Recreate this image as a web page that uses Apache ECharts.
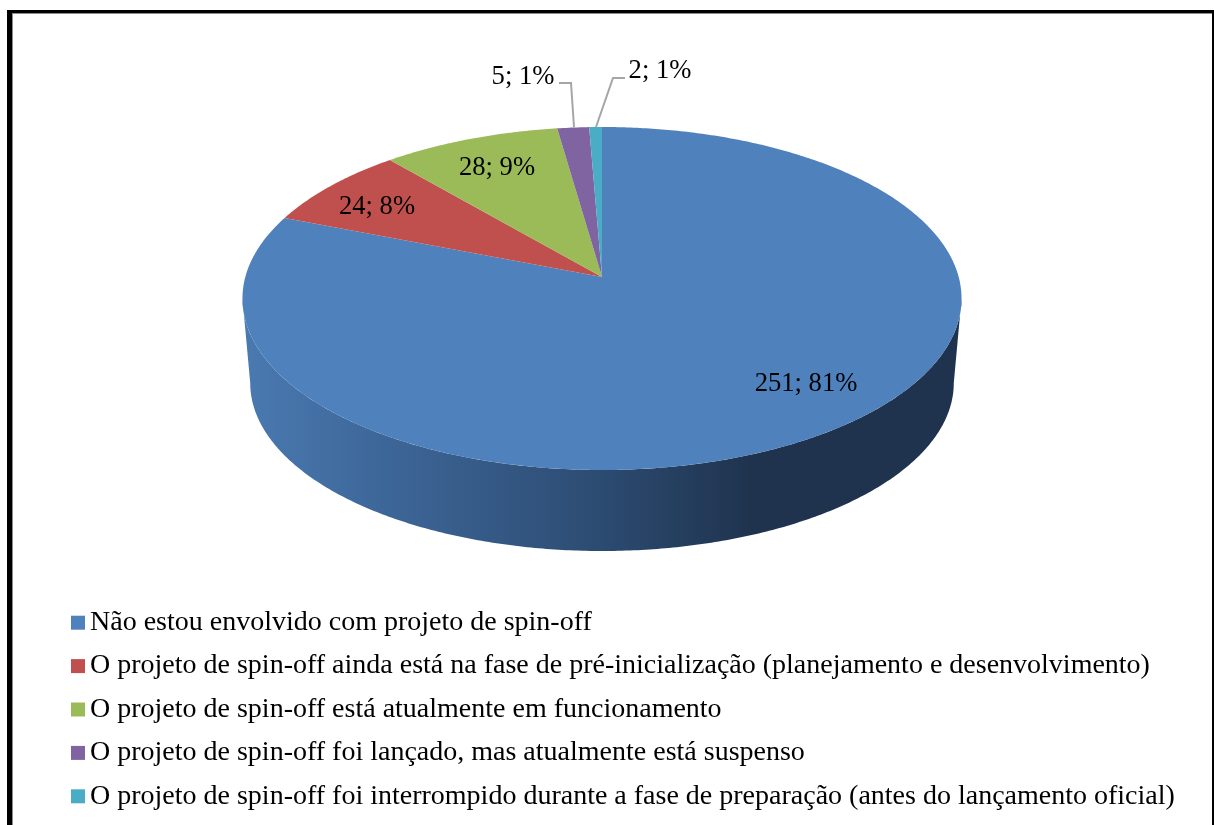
<!DOCTYPE html>
<html>
<head>
<meta charset="utf-8">
<style>
  html, body { margin: 0; padding: 0; background: #fff; }
  #chart { width: 1214px; height: 825px; }
</style>
</head>
<body>
<div id="chart"></div>
<script src="https://cdn.jsdelivr.net/npm/echarts@6/dist/echarts.min.js"></script>
<script>
const categories = [
  'Não estou envolvido com projeto de spin-off',
  'O projeto de spin-off ainda está na fase de pré-inicialização (planejamento e desenvolvimento)',
  'O projeto de spin-off está atualmente em funcionamento',
  'O projeto de spin-off foi lançado, mas atualmente está suspenso',
  'O projeto de spin-off foi interrompido durante a fase de preparação (antes do lançamento oficial)'
];
const values = [251, 24, 28, 5, 2];
const percents = [81, 8, 9, 1, 1];
const colors = ['#4f81bd', '#c0504d', '#9bbb59', '#8064a2', '#4bacc6'];

// where the labels sit, and the leader lines of the two thin slices
const labelAt = [[806, 384], [377, 207], [497, 168], [523, 77], [660, 71]];
const leaders = [null, null, null, [[559, 83], [571, 83], [574, 127]], [[625, 78], [613, 78], [596, 127]]];

const font = '"Liberation Serif", "Times New Roman", serif';
const total = values.reduce((a, b) => a + b, 0);

// the tilted disc: a circle seen in perspective, so the centre is not the middle of the ellipse
const disc = { cx: 602, cy: 277, rx: 356.7, ry: 168.8, k: 0.1254 };
const base = { cx: 602, cy: 362, rx: 349, ry: 165.3, k: 0.1254 };
const wallFrom = Math.PI - Math.acos(disc.k);
const wallTo = Math.PI + Math.acos(disc.k);

function project(d, a) {
  const w = 1 + d.k * Math.cos(a);
  return [d.cx + d.rx * Math.sin(a) / w, d.cy - d.ry * Math.cos(a) / w];
}

function arc(d, a0, a1) {
  const pts = [];
  const n = Math.max(2, Math.ceil(Math.abs(a1 - a0) / 0.01));
  for (let i = 0; i <= n; i++) pts.push(project(d, a0 + (a1 - a0) * i / n));
  return pts;
}

function renderSlice(i) {
  return function (params, api) {
    const before = values.slice(0, i).reduce((a, b) => a + b, 0);
    const a0 = before / total * Math.PI * 2;
    const a1 = (before + api.value(0)) / total * Math.PI * 2;
    const children = [];

    // side wall, only the part of the slice facing the viewer
    const w0 = Math.max(a0, wallFrom);
    const w1 = Math.min(a1, wallTo);
    if (w1 > w0) {
      children.push({
        type: 'polygon',
        shape: { points: arc(disc, w0, w1).concat(arc(base, w1, w0)) },
        style: {
          fill: new echarts.graphic.LinearGradient(0, 0, 1, 0, [
            { offset: 0, color: '#4a7ab1' },
            { offset: 0.2, color: '#3d6698' },
            { offset: 0.5, color: '#2c4b71' },
            { offset: 0.71, color: '#1f334e' },
            { offset: 1, color: '#1f334e' }
          ])
        }
      });
    }

    // top face
    children.push({
      type: 'polygon',
      shape: { points: [[disc.cx, disc.cy]].concat(arc(disc, a0, a1)) },
      style: { fill: colors[i] }
    });

    if (leaders[i]) {
      children.push({
        type: 'polyline',
        shape: { points: leaders[i] },
        style: { stroke: '#a6a6a6', lineWidth: 2, fill: 'none' }
      });
    }
    return { type: 'group', children: children };
  };
}

function renderLabel(i) {
  return function (params, api) {
    return {
      type: 'text',
      x: labelAt[i][0],
      y: labelAt[i][1],
      style: {
        text: api.value(0) + '; ' + percents[i] + '%',
        font: '26.6px ' + font,
        fill: '#000',
        align: 'center',
        verticalAlign: 'middle'
      }
    };
  };
}

const series = [];
categories.forEach(function (name, i) {
  series.push({
    type: 'custom',
    name: name,
    coordinateSystem: 'none',
    silent: true,
    animation: false,
    itemStyle: { color: colors[i] },
    data: [[values[i]]],
    renderItem: renderSlice(i),
    z: 2
  });
});
// labels go above every slice, otherwise the next slice paints over them
categories.forEach(function (name, i) {
  series.push({
    type: 'custom',
    coordinateSystem: 'none',
    silent: true,
    animation: false,
    data: [[values[i]]],
    renderItem: renderLabel(i),
    z: 3
  });
});

const myChart = echarts.init(document.getElementById('chart'), null, { renderer: 'canvas' });
myChart.setOption({
  animation: false,
  backgroundColor: '#fff',
  tooltip: { show: false },
  legend: {
    orient: 'vertical',
    left: 71,
    top: 607,
    data: categories,
    icon: 'rect',
    itemWidth: 14,
    itemHeight: 14,
    itemGap: 12,
    selectedMode: false,
    padding: 0,
    textStyle: {
      fontFamily: font,
      fontSize: 28,
      color: '#000',
      lineHeight: 29.4,
      height: 29.4,
      padding: [2, 0, 0, 0]
    }
  },
  graphic: [
    { type: 'rect', shape: { x: 7, y: 10, width: 5, height: 815 }, style: { fill: '#000' } },
    { type: 'rect', shape: { x: 7, y: 10, width: 1207, height: 3 }, style: { fill: '#000' } },
    { type: 'rect', shape: { x: 1212, y: 10, width: 2, height: 815 }, style: { fill: '#000' } },
    { type: 'rect', shape: { x: 12, y: 13, width: 1, height: 812 }, style: { fill: '#8c8c8c' } },
    { type: 'rect', shape: { x: 12, y: 13, width: 1200, height: 1 }, style: { fill: '#8c8c8c' } }
  ],
  series: series
});
</script>
</body>
</html>
